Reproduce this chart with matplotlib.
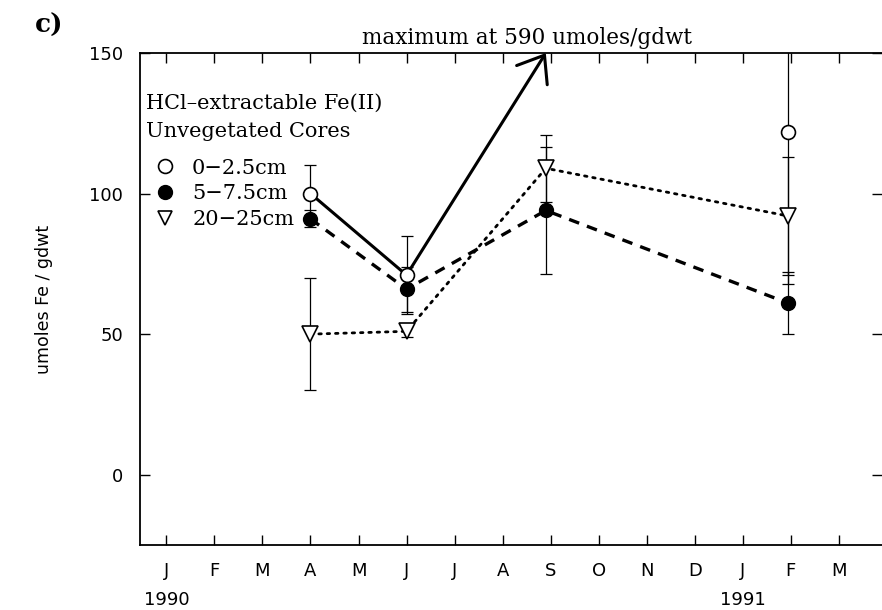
import matplotlib
matplotlib.use('Agg')
import matplotlib.pyplot as plt
from matplotlib.lines import Line2D

# month index from Jan 1990 (0) to Mar 1991 (14)
month_labels = ['J', 'F', 'M', 'A', 'M', 'J', 'J', 'A', 'S', 'O', 'N', 'D', 'J', 'F', 'M']
year_labels = ['1990', '1991']
year_pos = [0, 12]

# sampling dates: Apr 90, Jun 90, Sep 90, Feb 91
t = [3, 5, 7.9, 12.95]

# 0-2.5cm (open circles); the Sep value is off the scale
shallow = [100, 71, 590, 122]
shallow_err = [10, 14, 0, 54]
# 5-7.5cm (filled circles)
mid = [91, 66, 94, 61]
mid_err = [3, 8, 22.5, 11]
# 20-25cm (triangles)
deep = [50, 51, 109, 92]
deep_err = [20, 2, 12, 21]

serif = ['DejaVu Serif']
plt.rcParams['font.family'] = ['DejaVu Sans']

fig = plt.figure(figsize=(8.82, 6.10), dpi=100)
ax = fig.add_axes([140/882, 1-545/610, 742/882, 492/610])

ax.set_xlim(-0.55, 14.9)
ax.set_ylim(-25, 150)

eb = dict(fmt='none', ecolor='black', elinewidth=0.9, capsize=4.5, capthick=0.9, clip_on=True)

# 0-2.5cm
ax.errorbar([t[0], t[1], t[3]], [shallow[0], shallow[1], shallow[3]],
            yerr=[shallow_err[0], shallow_err[1], shallow_err[3]], **eb)
ax.plot(t[:2], shallow[:2], '-', color='black', lw=2.2, zorder=3)
ax.plot([t[0], t[1], t[3]], [shallow[0], shallow[1], shallow[3]], 'o', ls='none',
        mfc='white', mec='black', ms=10, mew=1.2, zorder=4)
ax.annotate('', xy=(t[2], 150), xytext=(t[1], shallow[1]),
            arrowprops=dict(arrowstyle='->,head_length=1.7,head_width=1.3',
                            color='black', lw=2.2, shrinkA=0, shrinkB=0),
            annotation_clip=False)
ax.text(7.5, 151.5, f'maximum at {shallow[2]} umoles/gdwt', ha='center', va='bottom',
        fontsize=15.5, family=serif)

# 5-7.5cm
ax.errorbar(t, mid, yerr=mid_err, **eb)
ax.plot(t, mid, '--', color='black', lw=2.4, dashes=(3.2, 2.5), zorder=3)
ax.plot(t, mid, 'o', ls='none', mfc='black', mec='black', ms=10, zorder=4)

# 20-25cm
ax.errorbar(t, deep, yerr=deep_err, **eb)
ax.plot(t, deep, color='black', lw=2.0, dashes=(0.9, 2.1), dash_capstyle='round', zorder=3)
ax.plot(t, deep, 'v', ls='none', mfc='white', mec='black', ms=11, mew=1.2, zorder=4)

# legend block
ax.text(0.008, 0.869, 'HCl\u2013extractable Fe(II)\nUnvegetated Cores', transform=ax.transAxes,
        ha='left', va='center', fontsize=15, family=serif, linespacing=1.65)
handles = [Line2D([], [], ls='none', marker='o', mfc='white', mec='black', ms=10, mew=1.2),
           Line2D([], [], ls='none', marker='o', mfc='black', mec='black', ms=10),
           Line2D([], [], ls='none', marker='v', mfc='white', mec='black', ms=10, mew=1.2)]
labels = ['0\u22122.5cm', '5\u22127.5cm', '20\u221225cm']
leg = ax.legend(handles, labels, loc='upper left', bbox_to_anchor=(0.0, 0.815),
                frameon=False, handlelength=1.0, handletextpad=0.8, labelspacing=0.32,
                prop=dict(family=serif, size=15), borderaxespad=0.3)

ax.set_xticks(range(len(month_labels)))
ax.set_xticklabels(month_labels)
ax.set_yticks([0, 50, 100, 150])
ax.tick_params(direction='in', length=7, width=1, labelsize=13, top=True, right=True, pad=12)
ax.spines['right'].set_visible(False)
for s in ['left', 'bottom', 'top']:
    ax.spines[s].set_linewidth(1.3)

for y, p in zip(year_labels, year_pos):
    ax.text(p, -55/492, y, transform=ax.get_xaxis_transform(), ha='center', va='center', fontsize=13)

ax.set_ylabel('umoles Fe / gdwt', fontsize=12.5, labelpad=26)
fig.text(35/882, 1-25/610, 'c)', fontsize=19, fontweight='bold', family=serif, ha='left', va='center')

fig.savefig('out.png', dpi=100)
